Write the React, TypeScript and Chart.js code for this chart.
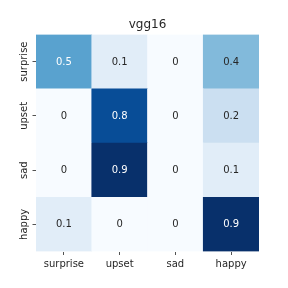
import React, { useEffect, useRef } from "react";
import { Chart, registerables } from "chart.js";

Chart.register(...registerables);

const title = "vgg16";
const predictedLabels = ["surprise", "upset", "sad", "happy"];
const trueLabels = ["surprise", "upset", "sad", "happy"];
const rowSurprise = [0.5, 0.1, 0, 0.4];
const rowUpset = [0, 0.8, 0, 0.2];
const rowSad = [0, 0.9, 0, 0.1];
const rowHappy = [0.1, 0, 0, 0.9];
const rows = [rowSurprise, rowUpset, rowSad, rowHappy];

const BLUES = [
  [247, 251, 255], [222, 235, 247], [198, 219, 239], [158, 202, 225],
  [107, 174, 214], [66, 146, 198], [33, 113, 181], [8, 81, 156], [8, 48, 107],
];

function blues(t: number): number[] {
  const c = Math.max(0, Math.min(1, t)) * (BLUES.length - 1);
  const i = Math.min(BLUES.length - 2, Math.floor(c));
  const f = c - i;
  return BLUES[i].map((v, k) => Math.round(v + (BLUES[i + 1][k] - v) * f));
}

const vmax = Math.max(...rows.flat());
const vmin = 0;

function cellColor(v: number) {
  const [r, g, b] = blues((v - vmin) / (vmax - vmin));
  return `rgb(${r},${g},${b})`;
}
function textColor(v: number) {
  const [r, g, b] = blues((v - vmin) / (vmax - vmin)).map((x) => {
    const s = x / 255;
    return s <= 0.03928 ? s / 12.92 : Math.pow((s + 0.055) / 1.055, 2.4);
  });
  const lum = 0.2126 * r + 0.7152 * g + 0.0722 * b;
  return lum > 0.408 ? "#262626" : "#ffffff";
}

const FONT = "'DejaVu Sans', sans-serif";
const TEXT = "#262626";

export default function App() {
  const ref = useRef<HTMLCanvasElement>(null);
  useEffect(() => {
    if (!ref.current) return;
    const n = trueLabels.length;
    // dataset index 0 is the bottom row (last true label)
    const datasets = trueLabels
      .map((lab, ri) => ({
        label: lab,
        data: predictedLabels.map(() => 1),
        backgroundColor: rows[ri].map(cellColor),
        borderWidth: 0,
        barPercentage: 1,
        categoryPercentage: 1,
        rowIndex: ri,
      }))
      .reverse();

    const overlay = {
      id: "overlay",
      afterDatasetsDraw(chart: any) {
        const ctx = chart.ctx;
        const ca = chart.chartArea;
        ctx.save();
        // annotations
        ctx.font = `10px ${FONT}`;
        ctx.textAlign = "center";
        ctx.textBaseline = "middle";
        chart.data.datasets.forEach((ds: any, di: number) => {
          const meta = chart.getDatasetMeta(di);
          const vals = rows[ds.rowIndex];
          meta.data.forEach((bar: any, ci: number) => {
            const p = bar.getProps(["x", "y", "base"], true);
            const cy = (p.y + p.base) / 2;
            ctx.fillStyle = textColor(vals[ci]);
            ctx.fillText(String(vals[ci]), p.x, cy + 0.5);
          });
        });
        // y tick labels (rotated)
        const ys = chart.scales.y;
        ctx.fillStyle = TEXT;
        for (let i = 0; i < n; i++) {
          const py = ys.getPixelForValue(n - i - 0.5);
          ctx.save();
          ctx.translate(24, py);
          ctx.rotate(-Math.PI / 2);
          ctx.textAlign = "center";
          ctx.textBaseline = "middle";
          ctx.fillText(trueLabels[i], 0, 0);
          ctx.restore();
        }
        // title
        ctx.font = `12px ${FONT}`;
        ctx.fillStyle = TEXT;
        ctx.textAlign = "center";
        ctx.textBaseline = "middle";
        ctx.fillText(title, (ca.left + ca.right) / 2, 25);
        ctx.restore();
      },
    };

    const chart = new Chart(ref.current, {
      type: "bar",
      data: { labels: predictedLabels, datasets: datasets as any },
      options: {
        responsive: false,
        animation: false,
        layout: { padding: { top: 34.5, right: 29, left: 0, bottom: 0 } },
        plugins: { legend: { display: false }, tooltip: { enabled: false }, title: { display: false } },
        scales: {
          x: {
            stacked: true,
            offset: true,
            grid: {
              offset: false,
              drawOnChartArea: false,
              drawTicks: true,
              tickLength: 3.5,
              tickColor: TEXT,
              tickWidth: 0.8,
            },
            border: { display: false },
            ticks: { color: TEXT, font: { family: FONT, size: 10 }, padding: 3, maxRotation: 0 },
            afterFit: (s: any) => { s.height = 36.5; },
          },
          y: {
            stacked: true,
            min: 0,
            max: n,
            grid: {
              drawOnChartArea: false,
              drawTicks: true,
              tickLength: 3.5,
              tickColor: TEXT,
              tickWidth: 0.8,
            },
            border: { display: false },
            ticks: { display: false },
            afterBuildTicks: (s: any) => {
              s.ticks = trueLabels.map((_, i) => ({ value: i + 0.5 }));
            },
            afterFit: (s: any) => { s.width = 36; },
          },
        },
      },
      plugins: [overlay],
    });
    return () => chart.destroy();
  }, []);
  return (
    <div style={{ position: "absolute", left: 0, top: 0, width: 288, height: 288, background: "#fff" }}>
      <canvas ref={ref} width={288} height={288} />
    </div>
  );
}
